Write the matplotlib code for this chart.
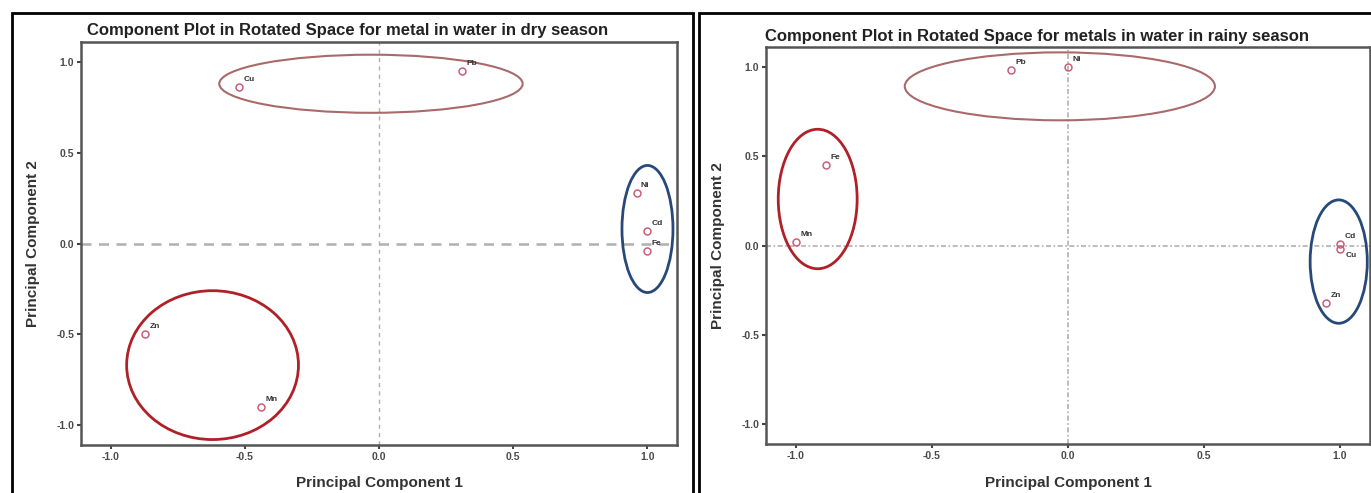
import matplotlib
matplotlib.use("Agg")
import matplotlib.pyplot as plt
from matplotlib.patches import Ellipse, Rectangle

# ---------------- data ----------------
dry_labels = ['Cu', 'Pb', 'Ni', 'Cd', 'Fe', 'Zn', 'Mn']
dry_pc1 = [-0.52, 0.31, 0.96, 1.00, 1.00, -0.87, -0.44]
dry_pc2 = [0.86, 0.95, 0.28, 0.07, -0.04, -0.50, -0.90]

rainy_labels = ['Pb', 'Ni', 'Fe', 'Mn', 'Cd', 'Cu', 'Zn']
rainy_pc1 = [-0.21, 0.00, -0.89, -1.00, 1.00, 1.00, 0.95]
rainy_pc2 = [0.98, 1.00, 0.45, 0.02, 0.01, -0.02, -0.32]

tick_values = [-1.0, -0.5, 0.0, 0.5, 1.0]
tick_labels = ['-1.0', '-0.5', '0.0', '0.5', '1.0']

titles = ['Component Plot in Rotated Space for metal in water in dry season',
          'Component Plot in Rotated Space for metals in water in rainy season']

# cluster ellipses (center x, center y, width, height)
dry_groups = [(-0.03, 0.88, 1.13, 0.32), (1.00, 0.08, 0.19, 0.70), (-0.62, -0.67, 0.64, 0.82)]
rainy_groups = [(-0.03, 0.89, 1.14, 0.38), (-0.92, 0.26, 0.29, 0.78), (0.995, -0.09, 0.21, 0.69)]
group_colors = ['#a86a6a', '#27497a', '#b02028']
rainy_group_colors = ['#a86a6a', '#b02028', '#27497a']
group_lw = [1.5, 2.0, 2.0]
rainy_group_lw = [1.5, 2.0, 2.0]

# ---------------- figure ----------------
plt.rcParams['font.family'] = ['Liberation Sans', 'DejaVu Sans']
W, H = 1371, 493
fig = plt.figure(figsize=(W / 100, H / 100), dpi=100)
fig.patch.set_facecolor('white')

# outer panel boxes
fig.patches.append(Rectangle((12 / W, -0.05), 681 / W, 1.05 - 13 / H, transform=fig.transFigure,
                             fill=False, lw=2, ec='black'))
fig.patches.append(Rectangle((699 / W, -0.05), 700 / W, 1.05 - 13 / H, transform=fig.transFigure,
                             fill=False, lw=2, ec='black'))

ax1 = fig.add_axes([81 / W, (H - 445) / H, 596 / W, 403 / H])
ax2 = fig.add_axes([766 / W, (H - 444) / H, 604 / W, 397 / H])


def style(ax, xlab_y, ylab_x):
    ax.set_xlim(-1.11, 1.11)
    ax.set_ylim(-1.11, 1.11)
    for s in ['top', 'right', 'left', 'bottom']:
        ax.spines[s].set_color('#555555')
        ax.spines[s].set_linewidth(1.8)
    ax.set_xticks(tick_values)
    ax.set_xticklabels(tick_labels)
    ax.set_yticks(tick_values)
    ax.set_yticklabels(tick_labels)
    ax.tick_params(direction='out', length=3, width=1.5, color='#444444',
                   labelsize=7.5, labelcolor='#4a4a4a', pad=2)
    for lab in ax.get_xticklabels() + ax.get_yticklabels():
        lab.set_fontweight('bold')
    ax.set_xlabel('Principal Component 1', fontsize=11, fontweight='bold', color='#333333')
    ax.set_ylabel('Principal Component 2', fontsize=11, fontweight='bold', color='#333333')
    ax.xaxis.label.set_va('center')
    ax.yaxis.label.set_va('center')
    ax.xaxis.set_label_coords(0.5, xlab_y)
    ax.yaxis.set_label_coords(ylab_x, 0.5)


style(ax1, -0.094, -0.0805)
style(ax2, -0.098, -0.0795)

# reference lines
ax1.axhline(0, color='#b0b0b0', lw=1.8, ls=(0, (4, 3)), zorder=1)
ax1.axvline(0, color='#b0b0b0', lw=1.0, ls=(0, (3, 3)), zorder=1)
ax2.axhline(0, color='#b0b0b0', lw=1.2, ls=(0, (3, 1.5, 1, 1.5)), zorder=1)
ax2.axvline(0, color='#b0b0b0', lw=1.2, ls=(0, (3, 1.5, 1, 1.5)), zorder=1)

marker_kw = dict(marker='o', ms=5, mfc='none', mec='#c8607a', mew=1.1, ls='none', zorder=3)

ax1.plot(dry_pc1, dry_pc2, **marker_kw)
ax2.plot(rainy_pc1, rainy_pc2, **marker_kw)

lab_kw = dict(textcoords='offset points', fontsize=6, fontweight='bold', color='#333333')
for lab, x, y in zip(dry_labels, dry_pc1, dry_pc2):
    ax1.annotate(lab, (x, y), xytext=(3, 3), ha='left', va='bottom', **lab_kw)
for lab, x, y in zip(rainy_labels, rainy_pc1, rainy_pc2):
    if lab == 'Cu':
        ax2.annotate(lab, (x, y), xytext=(4, -2), ha='left', va='top', **lab_kw)
    else:
        ax2.annotate(lab, (x, y), xytext=(3, 3), ha='left', va='bottom', **lab_kw)

for (cx, cy, w, h), c, lw in zip(dry_groups, group_colors, group_lw):
    ax1.add_patch(Ellipse((cx, cy), w, h, fill=False, ec=c, lw=lw, zorder=2))
for (cx, cy, w, h), c, lw in zip(rainy_groups, rainy_group_colors, rainy_group_lw):
    ax2.add_patch(Ellipse((cx, cy), w, h, fill=False, ec=c, lw=lw, zorder=2))

fig.text(348 / W, 1 - 30 / H, titles[0], ha='center', va='center', fontsize=12, fontweight='bold',
         color='#222222')
fig.text(1037 / W, 1 - 37 / H, titles[1], ha='center', va='center', fontsize=12, fontweight='bold',
         color='#222222')

fig.savefig('out.png', dpi=100, facecolor='white')
